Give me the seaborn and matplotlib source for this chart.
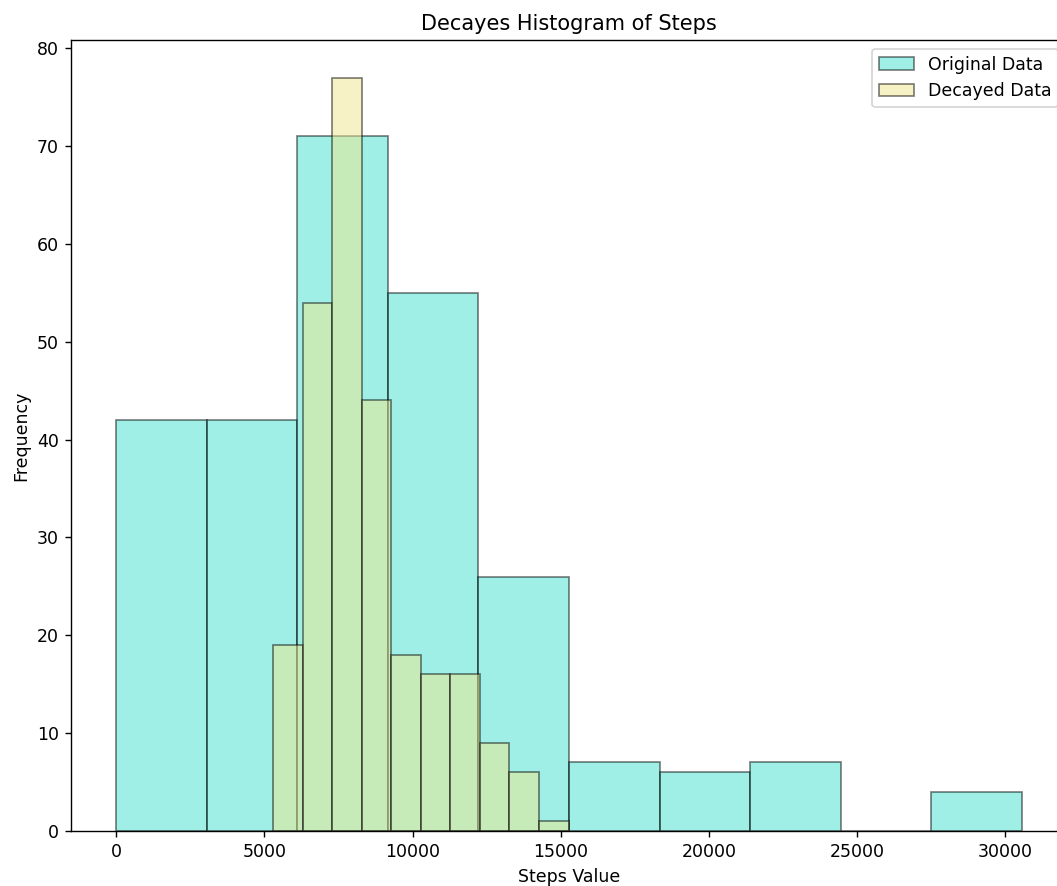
import numpy as np
import pandas as pd
import matplotlib
matplotlib.use("Agg")
import matplotlib.pyplot as plt
import seaborn as sns

# bin counts (10 bins each)
orig_counts = [42, 42, 71, 55, 26, 7, 6, 7, 0, 4]
orig_range = (0, 30550)
decayed_counts = [19, 54, 77, 44, 18, 16, 16, 9, 6, 1]
decayed_range = (5297, 15257)

orig_edges = np.linspace(orig_range[0], orig_range[1], len(orig_counts) + 1)
decayed_edges = np.linspace(decayed_range[0], decayed_range[1], len(decayed_counts) + 1)

df_orig = pd.DataFrame({"steps": (orig_edges[:-1] + orig_edges[1:]) / 2,
                        "count": orig_counts})
df_dec = pd.DataFrame({"steps": (decayed_edges[:-1] + decayed_edges[1:]) / 2,
                       "count": decayed_counts})

dpi = 125
fig = plt.figure(figsize=(1057 / dpi, 886 / dpi), dpi=dpi)
# right edge of the axes sits just past the image border, as in the original
ax = fig.add_axes([0.0672, 0.0621, 0.9423, 0.8928])

edge = (0, 0, 0, 0.5)
sns.histplot(data=df_orig, x="steps", weights="count", bins=list(orig_edges),
             color="turquoise", alpha=0.5, edgecolor=edge, linewidth=1,
             label="Original Data", ax=ax)
sns.histplot(data=df_dec, x="steps", weights="count", bins=list(decayed_edges),
             color="khaki", alpha=0.5, edgecolor=edge, linewidth=1,
             label="Decayed Data", ax=ax)

ax.set_title("Decayes Histogram of Steps")
ax.set_xlabel("Steps Value")
ax.set_ylabel("Frequency")
ax.legend(loc="upper right")

fig.savefig("out.png", dpi=dpi)
